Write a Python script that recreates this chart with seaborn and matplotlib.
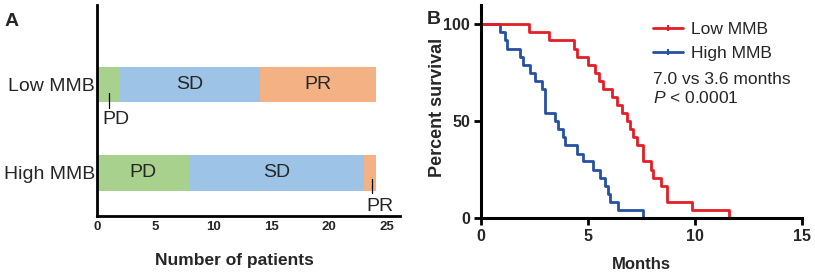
import numpy as np
import pandas as pd
import matplotlib
matplotlib.use("Agg")
import matplotlib.pyplot as plt
import seaborn as sns
from matplotlib.lines import Line2D

# ---------------- data ----------------
groups = ["Low MMB", "High MMB"]
pd_counts = [2, 8]
sd_counts = [12, 15]
pr_counts = [10, 1]
resp_colors = {"PD": "#a9d18e", "SD": "#9dc3e6", "PR": "#f4b183"}

low_times = [0, 2.24, 3.2, 4.36, 4.47, 5.01, 5.33, 5.53, 5.72, 6.11, 6.34, 6.57,
             6.81, 6.96, 7.1, 7.3, 7.55, 7.93, 8.05, 8.4, 8.68, 9.85, 11.6]
low_surv = [100, 95.8, 91.7, 87.5, 83.3, 79.2, 75.0, 70.8, 66.7, 62.5, 58.3, 54.2,
            50.0, 45.8, 41.7, 37.5, 29.2, 25.0, 20.8, 16.7, 8.3, 4.2, 0]
high_times = [0, 0.89, 1.1, 1.2, 1.82, 1.95, 2.29, 2.52, 2.83, 2.99, 3.46, 3.61,
              3.85, 3.93, 4.47, 4.78, 5.25, 5.56, 5.79, 5.95, 6.03, 6.42, 7.58]
high_surv = [100, 95.8, 91.7, 87.5, 83.3, 79.2, 75.0, 70.8, 66.7, 54.2, 50.0, 45.8,
             41.7, 37.5, 33.3, 29.2, 25.0, 20.8, 16.7, 12.5, 8.3, 4.2, 0]
km_colors = {"Low MMB": "#e41e26", "High MMB": "#2650a0"}
x_ticks_a = [0, 5, 10, 15, 20, 25]
x_ticks_b = [0, 5, 10, 15]
y_ticks_b = [0, 50, 100]

# ---------------- style ----------------
sns.set_style("ticks")
plt.rcParams["font.family"] = ["Liberation Sans", "DejaVu Sans"]
plt.rcParams["mathtext.fontset"] = "custom"
plt.rcParams["mathtext.it"] = "Liberation Sans:italic"
plt.rcParams["mathtext.rm"] = "Liberation Sans"

W, H = 815, 277
fig = plt.figure(figsize=(W / 100, H / 100), dpi=100)

def frac(l, t, r, b):
    return [l / W, 1 - b / H, (r - l) / W, (b - t) / H]

# ---------------- panel A ----------------
axA = fig.add_axes(frac(97, 5, 400, 216))
dfA = pd.DataFrame({"group": groups, "PD": pd_counts, "SD": sd_counts, "PR": pr_counts})
dfA["PD_SD"] = dfA["PD"] + dfA["SD"]
dfA["total"] = dfA["PD_SD"] + dfA["PR"]
for col, c in [("total", resp_colors["PR"]), ("PD_SD", resp_colors["SD"]), ("PD", resp_colors["PD"])]:
    sns.barplot(data=dfA, x=col, y="group", order=groups, color=c, orient="h",
                width=0.40, saturation=1, linewidth=0, ax=axA)
axA.set_xlim(0, 26.1)
axA.set_ylim(1.486, -0.898)
axA.set_xticks(x_ticks_a)
axA.set_xticklabels([str(t) for t in x_ticks_a], fontweight="bold", fontsize=9.5)
axA.tick_params(axis="x", length=0, pad=3.5)
axA.tick_params(axis="y", length=0, pad=1.5, labelsize=14)
sns.despine(ax=axA)
for s in ["left", "bottom"]:
    axA.spines[s].set_linewidth(2.0)
    axA.spines[s].set_color("black")
axA.set_ylabel("")
axA.set_xlabel("Number of patients", fontsize=12.5, fontweight="bold")
axA.xaxis.set_label_coords(0.455, -0.175)

fs_in = 14
for i, g in enumerate(groups):
    p, s, r = pd_counts[i], sd_counts[i], pr_counts[i]
    if p >= 4:
        axA.text(p / 2, i, "PD", ha="center", va="center", fontsize=fs_in)
    if s >= 4:
        axA.text(p + s / 2, i, "SD", ha="center", va="center", fontsize=fs_in)
    if r >= 4:
        axA.text(p + s + r / 2, i, "PR", ha="center", va="center", fontsize=fs_in)
# callouts for small segments
axA.plot([pd_counts[0] / 2, pd_counts[0] / 2], [0.096, 0.266], color="black", lw=0.9)
axA.text(1.6, 0.30, "PD", ha="center", va="top", fontsize=fs_in)
xpr = pd_counts[1] + sd_counts[1] + pr_counts[1] / 2
axA.plot([xpr + 0.15, xpr + 0.15], [1.068, 1.226], color="black", lw=0.9)
axA.text(24.4, 1.28, "PR", ha="center", va="top", fontsize=fs_in)

fig.text(5 / W, 1 - 21.5 / H, "A", fontsize=14, fontweight="bold", va="center", ha="left")

# ---------------- panel B ----------------
axB = fig.add_axes(frac(481, 5, 802, 218))
km = pd.concat([
    pd.DataFrame({"months": high_times, "surv": high_surv, "group": "High MMB"}),
    pd.DataFrame({"months": low_times, "surv": low_surv, "group": "Low MMB"}),
])
for g in ["High MMB", "Low MMB"]:
    sub = km[km["group"] == g]
    sns.lineplot(data=sub, x="months", y="surv", drawstyle="steps-post", estimator=None,
                 color=km_colors[g], lw=2.0, ax=axB, legend=False)
axB.set_xlim(0, 15)
axB.set_ylim(0, 110)
axB.set_xticks(x_ticks_b)
axB.set_yticks(y_ticks_b)
axB.set_xticklabels([str(t) for t in x_ticks_b], fontweight="bold", fontsize=11.5)
axB.set_yticklabels([str(t) for t in y_ticks_b], fontweight="bold", fontsize=11.5)
axB.tick_params(axis="both", length=5, width=2, color="black", pad=3)
sns.despine(ax=axB)
for s in ["left", "bottom"]:
    axB.spines[s].set_linewidth(2.2)
    axB.spines[s].set_color("black")
axB.set_xlabel("Months", fontsize=12, fontweight="bold")
axB.xaxis.set_label_coords(0.5, -0.185)
axB.set_ylabel("Percent survival", fontsize=13, fontweight="bold")
axB.yaxis.set_label_coords(-0.11, 0.52)

handles = [Line2D([0], [0], color=km_colors[g], lw=2.0, marker="|", markersize=4,
                  markeredgewidth=1.5) for g in ["Low MMB", "High MMB"]]
leg = axB.legend(handles, ["Low MMB", "High MMB"], loc="upper left",
                 bbox_to_anchor=((653 - 481) / 321, (218 - 22) / 213),
                 frameon=False, fontsize=12.5, handlelength=1.75, handletextpad=0.45,
                 borderaxespad=0, borderpad=0, labelspacing=0.48)
axB.text((653 - 481) / 321, (218 - 80) / 213, "7.0 vs 3.6 months", transform=axB.transAxes,
         fontsize=12.5, va="center", ha="left")
axB.text((653 - 481) / 321, (218 - 98) / 213, "$P$ < 0.0001", transform=axB.transAxes,
         fontsize=12.5, va="center", ha="left")

fig.text(427 / W, 1 - 20 / H, "B", fontsize=14, fontweight="bold", va="center", ha="left")

fig.savefig("out.png", dpi=100)
